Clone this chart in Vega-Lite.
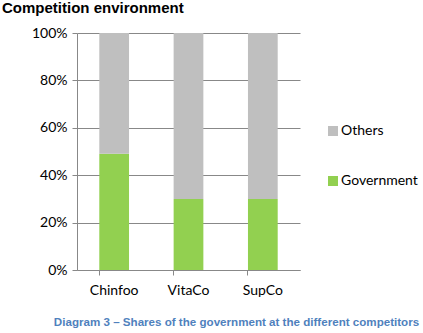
{
  "$schema": "https://vega.github.io/schema/vega-lite/v6.json",
  "autosize": "none",
  "width": 223,
  "height": 237,
  "padding": {"left": 77, "top": 33, "right": 123, "bottom": 63},
  "background": "white",
  "title": {
    "text": "Competition environment",
    "anchor": "start",
    "frame": "group",
    "dx": -75,
    "offset": 10,
    "font": "Liberation Sans",
    "fontSize": 15,
    "fontWeight": "bold",
    "color": "#000000"
  },
  "data": {
    "values": [
      {"company": "Chinfoo", "group": "Government", "share": 0.49},
      {"company": "Chinfoo", "group": "Others", "share": 0.51},
      {"company": "VitaCo", "group": "Government", "share": 0.30},
      {"company": "VitaCo", "group": "Others", "share": 0.70},
      {"company": "SupCo", "group": "Government", "share": 0.30},
      {"company": "SupCo", "group": "Others", "share": 0.70}
    ]
  },
  "mark": {"type": "bar", "stroke": null},
  "encoding": {
    "x": {
      "field": "company",
      "type": "nominal",
      "sort": ["Chinfoo", "VitaCo", "SupCo"],
      "scale": {"paddingInner": 0.6, "paddingOuter": 0.3},
      "axis": {
        "title": "Diagram 3 – Shares of the government at the different competitors",
        "titleFont": "Liberation Sans",
        "titleFontSize": 11.6,
        "titleFontWeight": "bold",
        "titleColor": "#4F81BD",
        "titleX": 159,
        "titleY": 52,
        "titleBaseline": "middle",
        "titleAnchor": "middle",
        "titleAlign": "center",
        "labelAngle": 0,
        "labelFont": "Lato",
        "labelFontSize": 14,
        "labelColor": "#000000",
        "labelPadding": 8,
        "bandPosition": 0,
        "tickColor": "#888888",
        "tickSize": 5,
        "domainColor": "#888888",
        "grid": false
      }
    },
    "y": {
      "field": "share",
      "type": "quantitative",
      "stack": "zero",
      "scale": {"domain": [0, 1]},
      "axis": {
        "title": null,
        "format": "%",
        "values": [0, 0.2, 0.4, 0.6, 0.8, 1],
        "labelFont": "Lato",
        "labelFontSize": 14,
        "labelColor": "#000000",
        "labelPadding": 5,
        "tickColor": "#888888",
        "tickSize": 5,
        "domainColor": "#888888",
        "grid": true,
        "gridColor": "#888888",
        "gridWidth": 1
      }
    },
    "color": {
      "field": "group",
      "type": "nominal",
      "scale": {"domain": ["Others", "Government"], "range": ["#BFBFBF", "#92D050"]},
      "legend": {
        "title": null,
        "orient": "none",
        "legendX": 249,
        "legendY": 91,
        "symbolType": "square",
        "symbolSize": 100,
        "symbolStrokeWidth": 0,
        "labelFont": "Lato",
        "labelFontSize": 14,
        "labelColor": "#000000",
        "labelOffset": 1,
        "rowPadding": 36
      }
    },
    "order": {"field": "group", "sort": "ascending"}
  },
  "config": {"view": {"stroke": null}}
}
